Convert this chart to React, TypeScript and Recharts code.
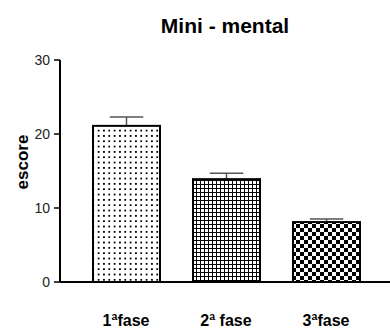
import React from 'react';
import { BarChart, Bar, XAxis, YAxis, Cell } from 'recharts';

const phases = ['1ªfase', '2ª fase', '3ªfase'];
const means = [21.1, 13.9, 8.1];
const sem = [1.2, 0.8, 0.4];
const yTicks = [0, 10, 20, 30];
const patterns = ['dots', 'grid', 'checker'];

const data = phases.map((name, i) => ({ name, value: means[i], err: sem[i] }));

// bar with the SEM whisker drawn above it (upper side only)
const BarWithError = (props: any) => {
  const { x, y, width, height, fill, payload } = props;
  const perUnit = height / payload.value;
  const top = y - payload.err * perUnit;
  const cx = x + width / 2;
  const cap = width / 4;
  return (
    <g>
      <line x1={cx} x2={cx} y1={y} y2={top} stroke="#555" strokeWidth={1.5} />
      <line x1={cx - cap} x2={cx + cap} y1={top} y2={top} stroke="#555" strokeWidth={1.5} />
      <rect x={x} y={y} width={width} height={height} fill={fill} stroke="#000" strokeWidth={2} />
    </g>
  );
};

const YLabel = (props: any) => {
  const { viewBox } = props;
  const cx = viewBox.x + 22;
  const cy = viewBox.y + viewBox.height / 2 - 9;
  return (
    <text
      x={cx}
      y={cy}
      transform={`rotate(-90, ${cx}, ${cy})`}
      textAnchor="middle"
      dominantBaseline="central"
      fontSize={17}
      fontWeight="bold"
      fill="#000"
    >
      escore
    </text>
  );
};

export default function App() {
  return (
    <div style={{ position: 'absolute', left: 0, top: 0, width: 390, height: 329, background: '#fff', fontFamily: '"Liberation Sans", Arial, sans-serif' }}>
      <svg width={0} height={0} style={{ position: 'absolute' }}>
        <defs>
          <pattern id="dots" width={5.33} height={5.33} patternUnits="userSpaceOnUse">
            <rect width={5.33} height={5.33} fill="#fff" />
            <rect x={2} y={2} width={1.5} height={1.5} fill="#000" shapeRendering="crispEdges" />
          </pattern>
          <pattern id="grid" width={4} height={4} patternUnits="userSpaceOnUse">
            <rect width={4} height={4} fill="#000" />
            <rect x={1} y={1} width={3} height={3} fill="#fff" shapeRendering="crispEdges" />
          </pattern>
          <pattern id="checker" width={8} height={8} patternUnits="userSpaceOnUse">
            <rect width={8} height={8} fill="#fff" />
            <rect width={4} height={4} fill="#000" shapeRendering="crispEdges" />
            <rect x={4} y={4} width={4} height={4} fill="#000" shapeRendering="crispEdges" />
          </pattern>
        </defs>
      </svg>
      <div style={{ position: 'absolute', left: 60, top: 15, width: 330, textAlign: 'center', fontSize: 21, fontWeight: 'bold', lineHeight: '21px' }}>
        Mini - mental
      </div>
      <BarChart width={390} height={329} data={data} margin={{ top: 60, right: 0, bottom: 0, left: 0 }}>
        <XAxis
          dataKey="name"
          height={47}
          padding={{ left: 16, right: 14 }}
          axisLine={{ stroke: '#000', strokeWidth: 2 }}
          tickLine={false}
          tickMargin={27}
          tick={{ fill: '#000', fontSize: 16, fontWeight: 'bold' }}
        />
        <YAxis
          width={60}
          domain={[0, 30]}
          ticks={yTicks}
          axisLine={{ stroke: '#000', strokeWidth: 2 }}
          tickLine={{ stroke: '#000', strokeWidth: 1.5 }}
          tickSize={6}
          tickMargin={4}
          tick={{ fill: '#222', fontSize: 14 }}
          label={<YLabel />}
        />
        <Bar dataKey="value" barSize={67} shape={<BarWithError />} isAnimationActive={false}>
          {data.map((d, i) => (
            <Cell key={d.name} fill={`url(#${patterns[i]})`} />
          ))}
        </Bar>
      </BarChart>
    </div>
  );
}
